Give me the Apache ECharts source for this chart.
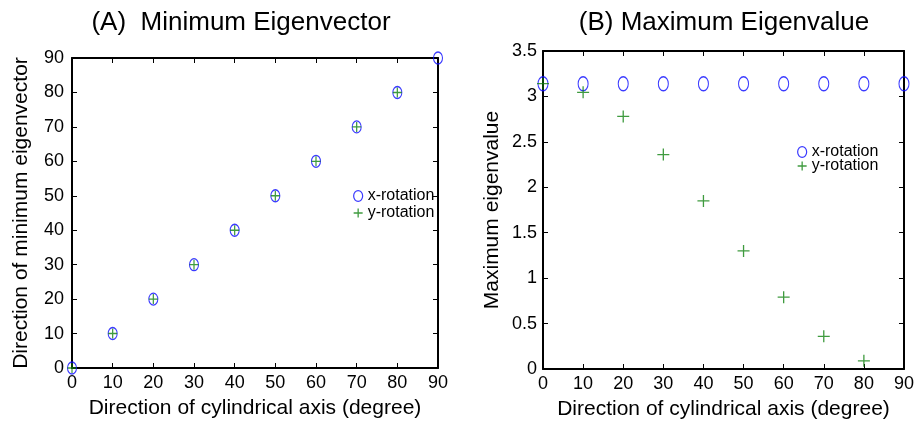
<!DOCTYPE html>
<html>
<head>
<meta charset="utf-8">
<script src="https://cdn.jsdelivr.net/npm/echarts@6/dist/echarts.min.js"></script>
<style>html,body{margin:0;padding:0;background:#fff;}#c{width:917px;height:425px;}</style>
</head>
<body>
<div id="c"></div>
<script>
// Data
var xDeg = [0, 10, 20, 30, 40, 50, 60, 70, 80, 90];
var xDegY = [0, 10, 20, 30, 40, 50, 60, 70, 80];
var minVecX = [0, 10, 20, 30, 40, 50, 60, 70, 80, 90];
var minVecY = [0, 10, 20, 30, 40, 50, 60, 70, 80];
var maxValX = [3.14, 3.14, 3.14, 3.14, 3.14, 3.14, 3.14, 3.14, 3.14, 3.14];
var maxValY = [3.14, 3.045, 2.78, 2.36, 1.85, 1.30, 0.79, 0.36, 0.09];
var seriesNames = ['x-rotation', 'y-rotation'];
var titleA = '(A)  Minimum Eigenvector';
var titleB = '(B) Maximum Eigenvalue';
var xName = 'Direction of cylindrical axis (degree)';
var yNameA = 'Direction of minimum eigenvector';
var yNameB = 'Maximum eigenvalue';

function pairs(xs, ys) { return xs.map(function (x, i) { return [x, ys[i]]; }); }

var FONT = 'Liberation Sans, Arial, sans-serif';
var BLUE = '#0a0aff';
var GREEN = '#0f820f';
var ellipse = 'path://M0,6 A5,6 0 1,1 10,6 A5,6 0 1,1 0,6 Z';
var plus = 'path://M5,0 L5,10 M0,5 L10,5';
var circStyle = { color: 'rgba(0,0,0,0)', borderColor: BLUE, borderWidth: 1.2 };
var plusStyle = { color: 'rgba(0,0,0,0)', borderColor: GREEN, borderWidth: 1.3 };

function xAx(gi, pos, show) {
  return {
    type: 'value', gridIndex: gi, position: pos, min: 0, max: 90, interval: 10,
    axisLine: { show: true, onZero: false, lineStyle: { color: '#000', width: 2 } },
    axisTick: { show: true, inside: true, length: 5, lineStyle: { color: '#000', width: 1 } },
    axisLabel: { show: show, color: '#000', fontSize: 18, fontFamily: FONT, margin: 6 },
    splitLine: { show: false },
    name: show ? xName : '', nameLocation: 'middle', nameGap: 30,
    nameTextStyle: { color: '#000', fontSize: 21, fontFamily: FONT }
  };
}
function yAx(gi, pos, show, max, interval, name, margin) {
  return {
    type: 'value', gridIndex: gi, position: pos, min: 0, max: max, interval: interval,
    axisLine: { show: true, onZero: false, lineStyle: { color: '#000', width: 2 } },
    axisTick: { show: true, inside: true, length: 5, lineStyle: { color: '#000', width: 1 } },
    axisLabel: { show: show, color: '#000', fontSize: 18, fontFamily: FONT, margin: margin },
    splitLine: { show: false },
    name: show ? name : '', nameLocation: 'middle', nameGap: 40, nameRotate: 90,
    nameTextStyle: { color: '#000', fontSize: 21, fontFamily: FONT }
  };
}

var chart = echarts.init(document.getElementById('c'), null, { renderer: 'canvas' });
chart.setOption({
  animation: false,
  backgroundColor: '#fff',
  grid: [
    { left: 72, top: 58, width: 366, height: 310 },
    { left: 543, top: 51, width: 367, height: 320 }
  ],
  xAxis: [xAx(0, 'bottom', true), xAx(0, 'top', false), xAx(1, 'bottom', true), xAx(1, 'top', false)],
  yAxis: [yAx(0, 'left', true, 90, 10, yNameA, 8), yAx(0, 'right', false, 90, 10, '', 8),
          yAx(1, 'left', true, 3.5, 0.5, yNameB, 6), yAx(1, 'right', false, 3.5, 0.5, '', 6)],
  graphic: [
    { type: 'text', x: 241, y: 23, style: { text: titleA, font: '26px ' + FONT, fill: '#000', align: 'center', verticalAlign: 'middle' } },
    { type: 'text', x: 724, y: 23, style: { text: titleB, font: '26px ' + FONT, fill: '#000', align: 'center', verticalAlign: 'middle' } }
  ],
  legend: [
    { orient: 'vertical', left: 348, top: 183, itemWidth: 9, itemHeight: 11, itemGap: 1, itemStyle: {},
      textStyle: { color: '#000', fontSize: 16, fontFamily: FONT },
      data: [{ name: seriesNames[0], icon: ellipse, itemStyle: circStyle },
             { name: seriesNames[1], icon: plus, itemStyle: plusStyle }] },
    { orient: 'vertical', left: 792, top: 139, itemWidth: 9, itemHeight: 11, itemGap: -2,
      textStyle: { color: '#000', fontSize: 16, fontFamily: FONT },
      data: [{ name: seriesNames[0], icon: ellipse, itemStyle: circStyle },
             { name: seriesNames[1], icon: plus, itemStyle: plusStyle }] }
  ],
  series: [
    { name: seriesNames[0], type: 'scatter', xAxisIndex: 0, yAxisIndex: 0, clip: false,
      symbol: ellipse, symbolSize: [9, 12], itemStyle: circStyle, data: pairs(xDeg, minVecX) },
    { name: seriesNames[1], type: 'scatter', xAxisIndex: 0, yAxisIndex: 0, clip: false,
      symbol: plus, symbolSize: [9, 10], itemStyle: plusStyle, data: pairs(xDegY, minVecY) },
    { name: seriesNames[0], type: 'scatter', xAxisIndex: 2, yAxisIndex: 2, clip: false,
      symbol: ellipse, symbolSize: [10, 14], itemStyle: circStyle, data: pairs(xDeg, maxValX) },
    { name: seriesNames[1], type: 'scatter', xAxisIndex: 2, yAxisIndex: 2, clip: false,
      symbol: plus, symbolSize: [12, 12], itemStyle: plusStyle, data: pairs(xDegY, maxValY) }
  ]
});
</script>
</body>
</html>
